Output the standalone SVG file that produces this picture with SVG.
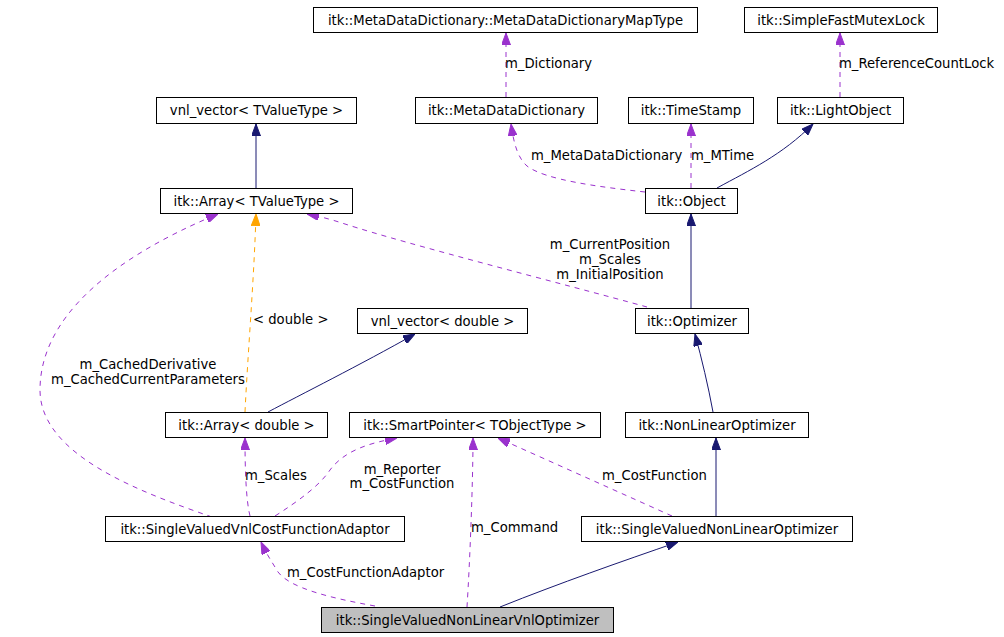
<svg xmlns="http://www.w3.org/2000/svg" width="1004" height="637" viewBox="0 0 1004 637">
<style>
  .node rect { fill: #ffffff; stroke: #000000; stroke-width: 1; }
  .node.main rect { fill: #bfbfbf; }
  text { font-family: "DejaVu Sans", "Liberation Sans", sans-serif; font-size: 13.2px; fill: #000000; }
  .node text { text-anchor: middle; }
  .inh { fill: none; stroke: #191970; stroke-width: 1; marker-end: url(#aNavy); }
  .use { fill: none; stroke: #9a32cd; stroke-width: 1; stroke-dasharray: 5,5; marker-end: url(#aPurple); }
  .tpl { fill: none; stroke: #ffa500; stroke-width: 1; stroke-dasharray: 5,5; marker-end: url(#aOrange); }
  .lbl { text-anchor: middle; }
</style>
<defs>
  <marker id="aNavy" viewBox="0 0 12 9" refX="12" refY="4.5" markerWidth="12" markerHeight="9" markerUnits="userSpaceOnUse" orient="auto">
    <path d="M0,0 L12,4.5 L0,9 z" fill="#191970" stroke="#191970"/>
  </marker>
  <marker id="aPurple" viewBox="0 0 12 9" refX="12" refY="4.5" markerWidth="12" markerHeight="9" markerUnits="userSpaceOnUse" orient="auto">
    <path d="M0,0 L12,4.5 L0,9 z" fill="#9a32cd" stroke="#9a32cd"/>
  </marker>
  <marker id="aOrange" viewBox="0 0 12 9" refX="12" refY="4.5" markerWidth="12" markerHeight="9" markerUnits="userSpaceOnUse" orient="auto">
    <path d="M0,0 L12,4.5 L0,9 z" fill="#ffa500" stroke="#ffa500"/>
  </marker>
</defs>
<rect x="0" y="0" width="1004" height="637" fill="#ffffff"/>

<g id="connectors">
  <path class="inh" d="M256,188 L256,124"/>
  <path class="use" d="M506,97 L506,33"/>
  <text x="505" y="67.5">m_Dictionary</text>
  <path class="use" d="M840,97 L840,33"/>
  <text x="839" y="67.5">m_ReferenceCountLock</text>
  <path class="use" d="M645,192 C600,187 545,180 527,166 C518,158 514,145 511,124"/>
  <text x="531" y="159.5">m_MetaDataDictionary</text>
  <path class="use" d="M691,188 L691,124"/>
  <text x="691" y="159.5">m_MTime</text>
  <path class="inh" d="M717,188 C750,170 782,155 813,124"/>
  <path class="inh" d="M691,308 L691,214"/>
  <path class="use" d="M647,307 C560,283 410,245 345,224 C330,219 318,216 307,214"/>
  <text class="lbl" x="610" y="249">m_CurrentPosition</text>
  <text class="lbl" x="610" y="263.5">m_Scales</text>
  <text class="lbl" x="610" y="278.5">m_InitialPosition</text>
  <path class="tpl" d="M245,412 C248,350 254,280 256,214"/>
  <text x="253" y="324">&lt; double &gt;</text>
  <path class="inh" d="M268,412 C300,395 360,365 415,334"/>
  <path class="inh" d="M713,412 C708,385 702,360 695,334"/>
  <path class="use" d="M212,517 C140,492 40,455 40,390 C40,300 150,242 218,214"/>
  <text class="lbl" x="148" y="369">m_CachedDerivative</text>
  <text class="lbl" x="148" y="384">m_CachedCurrentParameters</text>
  <path class="use" d="M250,516 C246,500 245,470 245,438"/>
  <text x="245" y="480">m_Scales</text>
  <path class="use" d="M275,516 C300,500 320,485 330,470 C345,450 370,443 397,438"/>
  <text class="lbl" x="402" y="473.5">m_Reporter</text>
  <text class="lbl" x="402" y="488">m_CostFunction</text>
  <path class="use" d="M672,516 L498,438"/>
  <text x="602" y="480">m_CostFunction</text>
  <path class="inh" d="M716,516 L716,438"/>
  <path class="use" d="M467,607 C470,560 473,480 473,438"/>
  <text x="471" y="532">m_Command</text>
  <path class="use" d="M375,606 C330,598 290,588 278,572 C272,562 267,555 261,542"/>
  <text x="287" y="577">m_CostFunctionAdaptor</text>
  <path class="inh" d="M500,607 C560,583 620,562 678,542"/>
</g>

<g id="n_maptype" class="node"><rect x="313.5" y="7.5" width="384" height="25"/><text x="505.5" y="24.5">itk::MetaDataDictionary::MetaDataDictionaryMapType</text></g>
<g id="n_mutex" class="node"><rect x="744.5" y="7.5" width="193" height="25"/><text x="841" y="24.5">itk::SimpleFastMutexLock</text></g>
<g id="n_vnlT" class="node"><rect x="156.5" y="97.5" width="200" height="26"/><text x="256.5" y="115">vnl_vector&lt; TValueType &gt;</text></g>
<g id="n_mdd" class="node"><rect x="415.5" y="97.5" width="182" height="26"/><text x="506.5" y="115">itk::MetaDataDictionary</text></g>
<g id="n_ts" class="node"><rect x="628.5" y="97.5" width="125" height="26"/><text x="691" y="115">itk::TimeStamp</text></g>
<g id="n_lo" class="node"><rect x="777.5" y="97.5" width="126" height="26"/><text x="840.5" y="115">itk::LightObject</text></g>
<g id="n_arrT" class="node"><rect x="160.5" y="188.5" width="192" height="25"/><text x="256.5" y="205.5">itk::Array&lt; TValueType &gt;</text></g>
<g id="n_obj" class="node"><rect x="645.5" y="188.5" width="92" height="25"/><text x="691.5" y="205.5">itk::Object</text></g>
<g id="n_vnlD" class="node"><rect x="357.5" y="308.5" width="170" height="25"/><text x="442.5" y="325.5">vnl_vector&lt; double &gt;</text></g>
<g id="n_opt" class="node"><rect x="635.5" y="308.5" width="113" height="25"/><text x="692" y="325.5">itk::Optimizer</text></g>
<g id="n_arrD" class="node"><rect x="165.5" y="412.5" width="162" height="25"/><text x="246.5" y="429.5">itk::Array&lt; double &gt;</text></g>
<g id="n_sp" class="node"><rect x="349.5" y="412.5" width="251" height="25"/><text x="475" y="429.5">itk::SmartPointer&lt; TObjectType &gt;</text></g>
<g id="n_nlo" class="node"><rect x="625.5" y="412.5" width="183" height="25"/><text x="717" y="429.5">itk::NonLinearOptimizer</text></g>
<g id="n_svvcfa" class="node"><rect x="105.5" y="516.5" width="299" height="25"/><text x="255" y="533.5">itk::SingleValuedVnlCostFunctionAdaptor</text></g>
<g id="n_svnlo" class="node"><rect x="581.5" y="516.5" width="271" height="25"/><text x="717" y="533.5">itk::SingleValuedNonLinearOptimizer</text></g>
<g id="n_svnlvo" class="node main"><rect x="321.5" y="607.5" width="292" height="25"/><text x="467.5" y="624.5">itk::SingleValuedNonLinearVnlOptimizer</text></g>
</svg>
